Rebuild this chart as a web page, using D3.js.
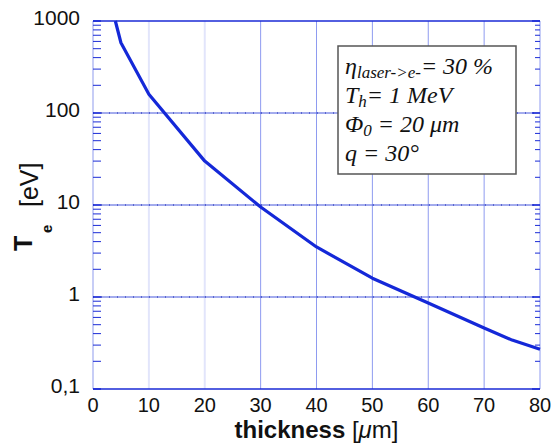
<!DOCTYPE html>
<html>
<head>
<meta charset="utf-8">
<script src="https://cdn.jsdelivr.net/npm/d3@7"></script>
<style>
  html, body { margin: 0; padding: 0; background: #fff; }
  svg { display: block; }
</style>
</head>
<body>
<svg id="chart" width="554" height="447"></svg>
<script>
// ---- data ----
const thickness = [4, 5, 10, 20, 30, 40, 50, 60, 70, 75, 80];
const temperature = [1000, 580, 160, 30, 9.5, 3.5, 1.6, 0.86, 0.46, 0.34, 0.27];
const xTicks = [0, 10, 20, 30, 40, 50, 60, 70, 80];
const yTicks = [0.1, 1, 10, 100, 1000];
const yTickLabels = ["0,1", "1", "10", "100", "1000"];
const legendLines = [
  { main: "η", sub: "laser->e-", rest: "= 30 %" },
  { main: "T", sub: "h", rest: "= 1 MeV" },
  { main: "Φ", sub: "0", rest: " = 20 μm" },
  { main: "q = 30°", sub: "", rest: "" }
];

const svg = d3.select("#chart");
const margin = { left: 93, right: 14, top: 21, bottom: 58 };
const W = 554, H = 447;
const x = d3.scaleLinear().domain([0, 80]).range([margin.left, W - margin.right]);
const y = d3.scaleLog().domain([0.1, 1000]).range([H - margin.bottom, margin.top]);

const blue = "#1a2ad6";
const g = svg.append("g");

// vertical grid lines
g.selectAll("line.vg").data(xTicks.filter(d => d > 0)).enter().append("line")
  .attr("x1", d => x(d)).attr("x2", d => x(d))
  .attr("y1", y(1000)).attr("y2", y(0.1))
  .attr("stroke", d => d <= 20 ? "#e2e5fb" : "#8e9bf0")
  .attr("stroke-width", d => d <= 20 ? 2 : 1);

// left axis line (light)
g.append("line").attr("x1", x(0)).attr("x2", x(0)).attr("y1", y(1000)).attr("y2", y(0.1))
  .attr("stroke", "#b4bcf3").attr("stroke-width", 1.5);

// horizontal grid lines at major decades
g.selectAll("line.hg").data([1, 10, 100]).enter().append("line")
  .attr("x1", x(0)).attr("x2", x(80))
  .attr("y1", d => y(d)).attr("y2", d => y(d))
  .attr("stroke", "#4858dc").attr("stroke-width", 1);
g.selectAll("line.hgd").data([1, 10, 100]).enter().append("line")
  .attr("x1", x(0)).attr("x2", x(80))
  .attr("y1", d => y(d)).attr("y2", d => y(d))
  .attr("stroke", "#1020b0").attr("stroke-width", 1).attr("stroke-dasharray", "1,7");

// top and bottom frame
[1000, 0.1].forEach(v => {
  g.append("line").attr("x1", x(0)).attr("x2", x(80)).attr("y1", y(v)).attr("y2", y(v))
    .attr("stroke", blue).attr("stroke-width", 1.5);
});

// minor ticks (left and right)
const minor = [];
[0.1, 1, 10, 100].forEach(d => { for (let k = 2; k <= 9; k++) minor.push(d * k); });
g.selectAll("line.ml").data(minor).enter().append("line")
  .attr("x1", x(0)).attr("x2", x(0) + 8)
  .attr("y1", d => y(d)).attr("y2", d => y(d))
  .attr("stroke", blue).attr("stroke-width", 1);
g.selectAll("line.mr").data(minor).enter().append("line")
  .attr("x1", x(80) - 5).attr("x2", x(80))
  .attr("y1", d => y(d)).attr("y2", d => y(d))
  .attr("stroke", blue).attr("stroke-width", 1);
// major ticks
g.selectAll("line.Ml").data(yTicks).enter().append("line")
  .attr("x1", x(0)).attr("x2", x(0) + 8)
  .attr("y1", d => y(d)).attr("y2", d => y(d))
  .attr("stroke", blue).attr("stroke-width", 1.5);
g.selectAll("line.Mr").data(yTicks).enter().append("line")
  .attr("x1", x(80) - 8).attr("x2", x(80))
  .attr("y1", d => y(d)).attr("y2", d => y(d))
  .attr("stroke", blue).attr("stroke-width", 1.5);

// tick labels
const tickFont = "'Liberation Sans', Arial, Helvetica, sans-serif";
g.selectAll("text.yl").data(yTicks).enter().append("text")
  .attr("x", x(0) - 13).attr("y", d => y(d) + 4)
  .attr("text-anchor", "end")
  .attr("font-family", tickFont).attr("font-size", 21).attr("fill", "#111")
  .text((d, i) => yTickLabels[i]);
g.selectAll("text.xl").data(xTicks).enter().append("text")
  .attr("x", d => x(d)).attr("y", y(0.1) + 23)
  .attr("text-anchor", "middle")
  .attr("font-family", tickFont).attr("font-size", 20).attr("fill", "#111")
  .text(d => d);

// curve
const line = d3.line().x((d, i) => x(thickness[i])).y(d => y(d));
g.append("path").datum(temperature)
  .attr("d", line)
  .attr("fill", "none").attr("stroke", "#1428d8").attr("stroke-width", 3.2)
  .attr("stroke-linejoin", "round");

// axis titles
const xt = svg.append("text")
  .attr("x", (x(0) + x(80)) / 2).attr("y", 438)
  .attr("text-anchor", "middle")
  .attr("font-family", tickFont).attr("font-size", 24).attr("fill", "#111");
xt.append("tspan").attr("font-weight", "bold").text("thickness");
xt.append("tspan").text(" [");
xt.append("tspan").attr("font-style", "italic").text("μ");
xt.append("tspan").text("m]");

svg.append("text").attr("transform", "translate(32,251) rotate(-90)")
  .attr("font-family", tickFont).attr("font-size", 25).attr("font-weight", "bold")
  .attr("fill", "#111").text("T");
svg.append("text").attr("transform", "translate(52,233) rotate(-90)")
  .attr("font-family", tickFont).attr("font-size", 15).attr("font-weight", "bold")
  .attr("fill", "#111").text("e");
svg.append("text").attr("transform", "translate(38,207) rotate(-90)")
  .attr("font-family", tickFont).attr("font-size", 25)
  .attr("fill", "#111").text("[eV]");

// legend box
const lx = 338, ly = 46, lw = 178, lh = 128;
svg.append("rect").attr("x", lx).attr("y", ly).attr("width", lw).attr("height", lh)
  .attr("fill", "#fff").attr("stroke", "#555").attr("stroke-width", 1.5);
const serif = "'Liberation Serif', 'Times New Roman', Times, serif";
legendLines.forEach((l, i) => {
  const t = svg.append("text").attr("x", lx + 7).attr("y", 74 + i * 29)
    .attr("font-family", serif).attr("font-size", 24).attr("font-style", "italic")
    .attr("fill", "#111");
  t.append("tspan").text(l.main);
  if (l.sub) {
    t.append("tspan").attr("font-size", 17).attr("dy", 4).text(l.sub);
    t.append("tspan").attr("dy", -4).text(l.rest);
  }
});
</script>
</body>
</html>
